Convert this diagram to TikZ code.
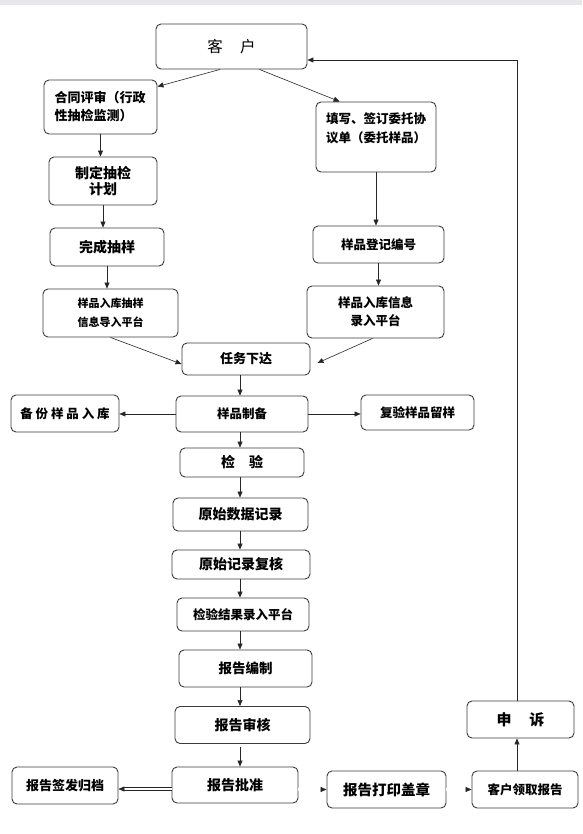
\documentclass[tikz,border=0pt]{standalone}
\usepackage{fontspec}
\setmainfont{Noto Sans CJK SC}
\usetikzlibrary{
  arrows.meta,
  calc
}
\definecolor{boxline}{HTML}{3C3C3C}
\definecolor{stripgray}{HTML}{E8E8EC}
\newcommand{\fsz}[2]{\fontsize{#1}{#2}\selectfont}
\tikzset{
  flow box/.style={
    draw=boxline, rectangle, rounded corners=5pt,
    line width=0.9pt, fill=white,
    inner sep=2pt, align=center,
    font=\bfseries\fsz{13}{17}
  },
  flow arrow/.style={
    -{Triangle[length=6pt,width=5pt]}, line width=0.6pt, draw=black!85
  },
  twin arrow/.style={
    -{Triangle[length=6pt,width=5pt]}, double, double distance=2.6pt,
    line width=0.55pt, draw=black!85
  },
}

\begin{document}
\begin{tikzpicture}[x=1pt, y=-1pt]

  \useasboundingbox (0,0) rectangle (582,834);
  \fill[stripgray] (0,0) rectangle (582,5);

  % Customer
  \node[flow box, font=\fsz{15.5}{18}, minimum width=151, minimum height=45]
    (kehu) at (231.5,46.5) {客\hspace{1.1em}户};

  % Left branch
  \node[flow box, align=left, text width=92, inner xsep=10.5,
    minimum height=54, font=\bfseries\fsz{13}{18}]
    (hetong) at (100.5,107) {合同评审（行政\\性抽检监测）};
  \node[flow box, font=\bfseries\fsz{14}{16}, minimum width=108, minimum height=48]
    (zhiding) at (103,181) {制定抽检\\计划};
  \node[flow box, font=\bfseries\fsz{14}{17}, minimum width=114, minimum height=38]
    (wancheng) at (107,247) {完成抽样};
  \node[flow box, font=\bfseries\fsz{11}{19}, minimum width=135, minimum height=48]
    (rukuL) at (110.5,313) {样品入库抽样\\信息导入平台};

  % Right branch
  \node[flow box, inner xsep=10, inner ysep=9, font=\bfseries\fsz{12.5}{19}]
    (tianxie) at (376,137)
    {\parbox[c][52pt][t]{100pt}{\raggedright\vspace*{2pt}填写、签订委托协\\议单（委托样品）}};
  \node[flow box, font=\bfseries\fsz{12.5}{16}, minimum width=131, minimum height=37]
    (dengji) at (378.5,244.5) {样品登记编号};
  \node[flow box, font=\bfseries\fsz{12.5}{18}, minimum width=137, minimum height=52]
    (rukuR) at (375.5,312) {样品入库信息\\录入平台};

  % Main column
  \node[flow box, minimum width=128, minimum height=32]
    (renwu) at (246,359) {任务下达};
  \node[flow box, font=\bfseries\fsz{12.5}{16}, minimum width=132, minimum height=36]
    (zhibei) at (242,414) {样品制备};
  \node[flow box, font=\bfseries\fsz{12.5}{16}, minimum width=108, minimum height=37]
    (beifen) at (65,413.5) {备 份 样 品 入 库};
  \node[flow box, font=\bfseries\fsz{12.5}{16}, minimum width=113, minimum height=35]
    (fuyan) at (417.5,412.5) {复验样品留样};
  \node[flow box, font=\bfseries\fsz{14}{17}, minimum width=124, minimum height=29]
    (jianyan) at (242,462.5) {检\hspace{1em}验};
  \node[flow box, font=\bfseries\fsz{14}{17}, minimum width=135, minimum height=33]
    (yuanshi) at (240.5,514.5) {原始数据记录};
  \node[flow box, font=\bfseries\fsz{14}{17}, minimum width=138, minimum height=29]
    (fuhe) at (241,564.5) {原始记录复核};
  \node[flow box, font=\bfseries\fsz{12.5}{16}, minimum width=132, minimum height=33]
    (jieguo) at (243,614.5) {检验结果录入平台};
  \node[flow box, font=\bfseries\fsz{13.5}{17}, minimum width=133, minimum height=37]
    (bianzhi) at (245.5,668.5) {报告编制};
  \node[flow box, font=\bfseries\fsz{14}{17}, minimum width=135, minimum height=37]
    (shenhe) at (242.5,725) {报告审核};

  % Bottom row
  \node[flow box, font=\bfseries\fsz{14}{17}, minimum width=126, minimum height=36]
    (pizhun) at (235,785) {报告批准};
  \node[flow box, minimum width=106, minimum height=37]
    (guidang) at (65,785.5) {报告签发归档};
  \node[flow box, font=\bfseries\fsz{14.5}{17}, minimum width=119, minimum height=37]
    (dayin) at (386.5,789.5) {报告打印盖章};
  \node[flow box, font=\bfseries\fsz{12.5}{16}, minimum width=106, minimum height=37]
    (lingqu) at (525,789.5) {客户领取报告};
  \node[flow box, font=\bfseries\fsz{15}{18}, minimum width=107, minimum height=37]
    (shensu) at (520.5,719.5) {申\hspace{1.2em}诉};

  \coordinate (spine) at (240,0);
  \coordinate (loop) at (517,60);

  % Customer -> both branches
  \draw[flow arrow] ([xshift=-11.5pt]kehu.south) -- ([yshift=-7pt]hetong.north east);
  \draw[flow arrow] ([xshift=28pt]kehu.south) -- ([xshift=24pt]tianxie.north west);

  % Left branch
  \draw[flow arrow] (hetong.south) -- (hetong.south |- zhiding.north);
  \draw[flow arrow] (zhiding.south) -- (zhiding.south |- wancheng.north);
  \draw[flow arrow] (wancheng.south) -- (wancheng.south |- rukuL.north);
  \draw[flow arrow] (rukuL.south) -- ([yshift=-5pt]renwu.west);

  % Right branch
  \draw[flow arrow] (tianxie.south) -- (tianxie.south |- dengji.north);
  \draw[flow arrow] (dengji.south) -- (dengji.south |- rukuR.north);
  \draw[flow arrow] ([xshift=-3pt]rukuR.south) -- ([shift={(7,4)}]renwu.east);

  % Sample preparation
  \draw[flow arrow] (renwu.south -| spine) -- (zhibei.north -| spine);
  \draw[flow arrow] (zhibei.west) -- (zhibei.west -| beifen.east);
  \draw[flow arrow] (zhibei.east) -- (zhibei.east -| fuyan.west);

  % Testing and report
  \draw[flow arrow] (zhibei.south -| spine) -- (jianyan.north -| spine);
  \draw[flow arrow] (jianyan.south -| spine) -- (yuanshi.north -| spine);
  \draw[flow arrow] (yuanshi.south -| spine) -- (fuhe.north -| spine);
  \draw[flow arrow] (fuhe.south -| spine) -- (jieguo.north -| spine);
  \draw[flow arrow] (jieguo.south -| spine) -- (bianzhi.north -| spine);
  \draw[flow arrow] (bianzhi.south -| spine) -- (shenhe.north -| spine);
  \draw[flow arrow, shorten <=3pt] (shenhe.south -| spine) -- (pizhun.north -| spine);

  % Approval outputs
  \draw[twin arrow] ([yshift=-4pt]pizhun.west) -- ([yshift=-4pt]pizhun.west -| guidang.east);
  \draw[twin arrow] (dayin.west -| pizhun.east) -- (dayin.west);
  \draw[twin arrow] (dayin.east) -- (lingqu.west);

  % Appeal loop
  \draw[flow arrow] (lingqu.north -| loop) -- (shensu.south -| loop);
  \draw[flow arrow] (shensu.north -| loop) -- (loop) -- (kehu.east |- loop);

\end{tikzpicture}
\end{document}
